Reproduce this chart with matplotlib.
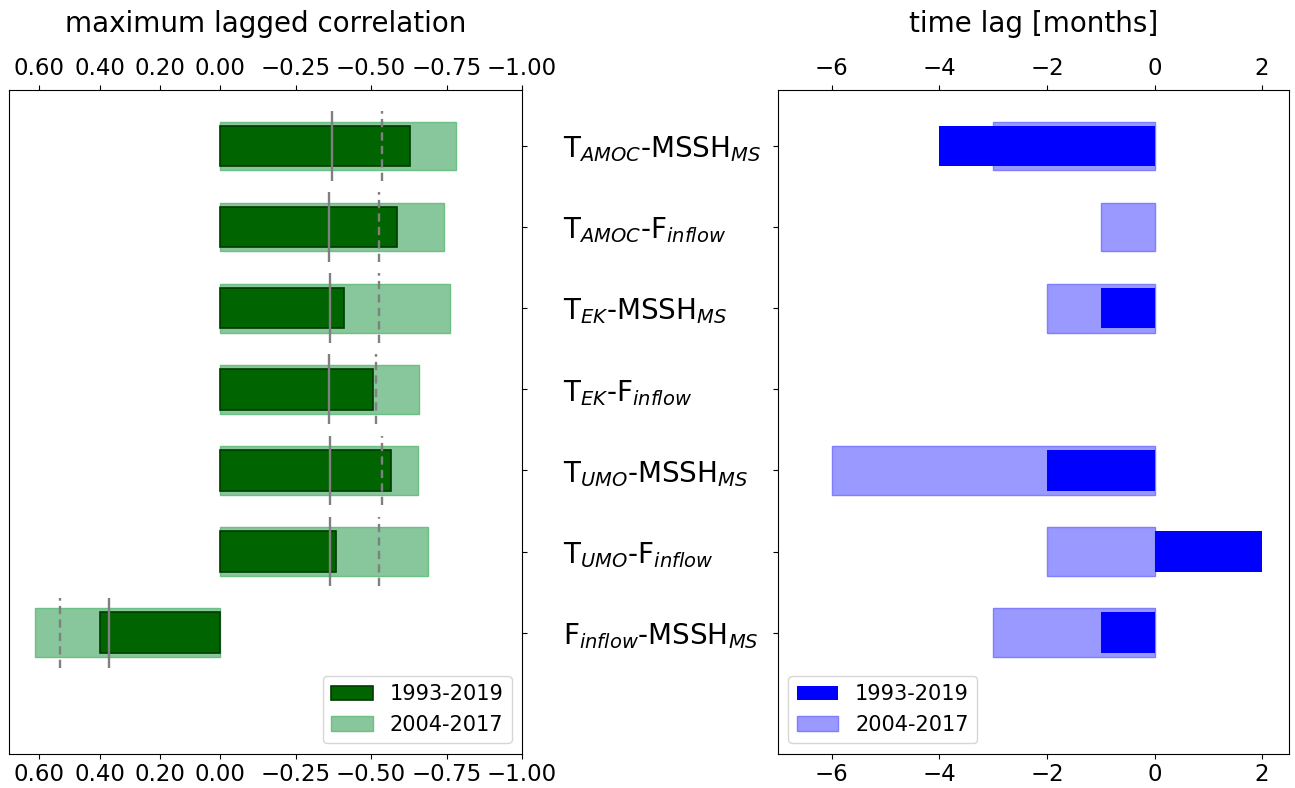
import matplotlib
matplotlib.use("Agg")
import matplotlib.pyplot as plt
import numpy as np
from matplotlib.patches import Patch

# ---------------- data ----------------
pairs = [r'T$_{AMOC}$-MSSH$_{MS}$', r'T$_{AMOC}$-F$_{inflow}$',
         r'T$_{EK}$-MSSH$_{MS}$', r'T$_{EK}$-F$_{inflow}$',
         r'T$_{UMO}$-MSSH$_{MS}$', r'T$_{UMO}$-F$_{inflow}$',
         r'F$_{inflow}$-MSSH$_{MS}$']
periods = ['1993-2019', '2004-2017']

corr_long = [-0.63, -0.585, -0.41, -0.505, -0.565, -0.385, 0.40]
corr_short = [-0.78, -0.74, -0.76, -0.66, -0.655, -0.69, 0.615]
sig_long = [-0.37, -0.36, -0.365, -0.36, -0.365, -0.365, 0.37]
sig_short = [-0.535, -0.525, -0.527, -0.517, -0.537, -0.527, 0.53]

lag_long = [-4, 0, -1, 0, -2, 2, -1]
lag_short = [-3, -1, -2, 0, -6, -2, -3]

corr_ticks = [0.6, 0.4, 0.2, 0.0, -0.25, -0.5, -0.75, -1.0]
lag_ticks = [-6, -4, -2, 0, 2]

# ---------------- figure ----------------
W, H = 1295, 788
fig = plt.figure(figsize=(W / 100, H / 100), dpi=100)

ax1 = fig.add_axes([9 / W, 1 - 753.5 / H, (522 - 9) / W, (753.5 - 90) / H])
ax2 = fig.add_axes([778 / W, 1 - 753.5 / H, (1289 - 778) / W, (753.5 - 90) / H])

y = np.arange(len(pairs))[::-1]  # first pair at top

dark_green = 'darkgreen'
light_green = '#88c69b'
light_green_edge = '#6cc086'
light_blue = '#9999ff'
light_blue_edge = '#7f7fff'

# left panel: correlations
ax1.barh(y, corr_short, height=0.6, color=light_green, edgecolor=light_green_edge,
         linewidth=1.0, zorder=2)
ax1.barh(y, corr_long, height=0.5, color=dark_green, edgecolor='#003a00',
         linewidth=1.2, zorder=3)
ax1.vlines(sig_long, y - 0.43, y + 0.43, colors='gray', linestyles='solid',
           linewidth=1.7, zorder=4)
ax1.vlines(sig_short, y - 0.43, y + 0.43, colors='gray', linestyles=(0, (3.5, 2.2)),
           linewidth=1.7, zorder=4)

ax1.set_xlim(0.7, -1.0)
ax1.set_ylim(-1.49, 6.69)
ax1.set_xticks(corr_ticks)
ax1.tick_params(axis='x', top=True, labeltop=True, bottom=True, labelbottom=True,
                labelsize=16.5)
ax1.yaxis.tick_right()
ax1.set_yticks(y)
ax1.set_yticklabels(pairs, fontsize=20, ha='left')
ax1.tick_params(axis='y', pad=26)
ax1.set_title('maximum lagged correlation', fontsize=20, pad=18)

h1 = [Patch(facecolor=dark_green, edgecolor='#003a00', linewidth=1.2, label=periods[0]),
      Patch(facecolor=light_green, edgecolor=light_green_edge, linewidth=1.0, label=periods[1])]
ax1.legend(handles=h1, loc='lower right', fontsize=15)

# right panel: time lags
lw_short = [1.0 if v != 0 else 0 for v in lag_short]
ax2.barh(y, lag_short, height=0.6, color=light_blue, edgecolor=light_blue_edge,
         linewidth=lw_short, zorder=2)
ax2.barh(y, lag_long, height=0.5, color='blue', linewidth=0, zorder=3)
ax2.set_xlim(-7, 2.5)
ax2.set_ylim(-1.49, 6.69)
ax2.set_xticks(lag_ticks)
ax2.tick_params(axis='x', top=True, labeltop=True, bottom=True, labelbottom=True,
                labelsize=16.5)
ax2.set_yticks(y)
ax2.set_yticklabels([])
ax2.set_title('time lag [months]', fontsize=20, pad=18)

h2 = [Patch(facecolor='blue', label=periods[0]),
      Patch(facecolor=light_blue, edgecolor=light_blue_edge, linewidth=1.0, label=periods[1])]
ax2.legend(handles=h2, loc='lower left', fontsize=15)

fig.savefig('out.png', dpi=100)
